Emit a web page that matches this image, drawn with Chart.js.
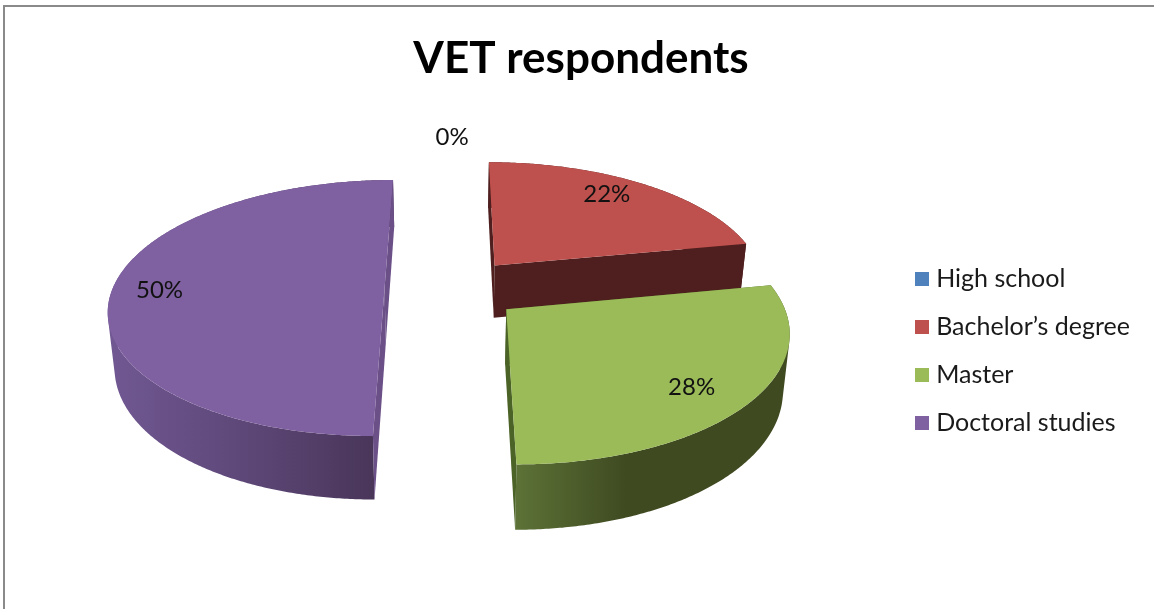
<!DOCTYPE html>
<html>
<head>
<meta charset="utf-8">
<title>VET respondents</title>
<script src="https://cdn.jsdelivr.net/npm/chart.js@4/dist/chart.umd.js"></script>
<style>
  html, body { margin: 0; padding: 0; background: #fff; overflow: hidden; }
  #wrap { position: relative; width: 1154px; height: 609px; }
  #frame { position: absolute; left: 3px; top: 5px; right: 0; bottom: 0;
           border-top: 2px solid #8a8a8a; border-left: 2px solid #8a8a8a; pointer-events: none; }
</style>
</head>
<body>
<div id="wrap">
  <canvas id="chart" width="1154" height="609"></canvas>
  <div id="frame"></div>
</div>
<script>
const CATEGORIES = ["High school", "Bachelor\u2019s degree", "Master", "Doctoral studies"];
const VALUES = [0, 22, 28, 50];
const TOP_COLORS = ["#4F81BD", "#BE504D", "#9BBB59", "#7F60A0"];
const CUT_COLORS = ["#2A4563", "#4E1F1E", "#4C6328", "#6B5088"];
// outer wall shading, left to right across the visible part of the rim
const WALL_SHADES = [
  [[0, "#4F81BD"], [1, "#2A4563"]],
  [[0, "#6E2B29"], [1, "#4E1F1E"]],
  [[0, "#5C7236"], [0.4, "#3F4A21"], [1, "#3F4A21"]],
  [[0, "#715893"], [0.55, "#5C4676"], [1, "#493659"]],
];

const EXPLODE = 0.25; // slice pull-out, as a fraction of the radius
// label placement per slice: distance from the tip, and a turn in degrees off the mid-angle
const LABEL_RADIUS = [1.23, 0.82, 0.805, 0.825];
const LABEL_TURN = [0, -3.6, 3, -1];
const LABEL_FONT = "24px Lato";

// Perspective camera for the tilted disc: u right, v down, z = 0 top face, 1 bottom face.
function project(u, v, z) {
  const w = 1 - 0.15 * v;
  let x = (272 * u - 67.5 * v + 452.5) / w;
  const y = (81.8 * v + 288.8 + 54 * z) / w;
  x = 451 + (x - 451) * (1 - 0.02 * z);
  return [x, y];
}

function sliceGeometry(arc) {
  const { startAngle, endAngle } = arc.getProps(["startAngle", "endAngle"], true);
  const mid = (startAngle + endAngle) / 2;
  return { startAngle, endAngle, mid, tipU: Math.cos(mid) * EXPLODE, tipV: Math.sin(mid) * EXPLODE };
}

function addPolygon(ctx, points) {
  points.forEach(([x, y], i) => (i ? ctx.lineTo(x, y) : ctx.moveTo(x, y)));
  ctx.closePath();
}

function tracePolygon(ctx, points) {
  ctx.beginPath();
  addPolygon(ctx, points);
}

function signedArea(points) {
  return points.reduce((sum, [x, y], i) => {
    const [nx, ny] = points[(i + 1) % points.length];
    return sum + x * ny - nx * y;
  }, 0);
}

// Arc element that paints itself as a solid wedge instead of a flat sector.
class Arc3D extends Chart.ArcElement {
  static id = "arc3d";

  draw(ctx) {
    const g = sliceGeometry(this);
    if (g.endAngle - g.startAngle <= 0) return;

    const steps = Math.ceil((g.endAngle - g.startAngle) / (Math.PI / 360));
    const rim = [];
    for (let i = 0; i <= steps; i++) {
      const a = g.startAngle + (g.endAngle - g.startAngle) * i / steps;
      rim.push({ a, u: g.tipU + Math.cos(a), v: g.tipV + Math.sin(a) });
    }
    const first = rim[0], last = rim[rim.length - 1];
    const idx = this.$context.dataIndex;

    // curved outer wall, the top face hides whatever faces away
    const top = rim.map((p) => project(p.u, p.v, 0));
    const bottom = rim.map((p) => project(p.u, p.v, 1));
    const facing = rim.filter((p) => Math.sin(p.a) >= 0).map((p) => project(p.u, p.v, 0)[0]);
    const x0 = facing.length ? Math.min(...facing) : 0;
    const x1 = facing.length ? Math.max(...facing) : 1;
    const shade = ctx.createLinearGradient(x0, 0, x1, 0);
    WALL_SHADES[idx].forEach(([stop, color]) => shade.addColorStop(stop, color));
    ctx.fillStyle = shade;
    // the rims cross near the sides, so one outline would pinch there; a union of
    // same-wound quads in a single path stays full without seams
    ctx.beginPath();
    for (let i = 0; i < steps; i++) {
      const quad = [top[i], top[i + 1], bottom[i + 1], bottom[i]];
      addPolygon(ctx, signedArea(quad) < 0 ? quad.reverse() : quad);
    }
    ctx.fill();

    // the two flat cut faces running in from the rim to the tip
    ctx.fillStyle = CUT_COLORS[idx];
    [first, last].forEach((p) => {
      tracePolygon(ctx, [
        project(g.tipU, g.tipV, 0), project(p.u, p.v, 0),
        project(p.u, p.v, 1), project(g.tipU, g.tipV, 1),
      ]);
      ctx.fill();
    });

    tracePolygon(ctx, [project(g.tipU, g.tipV, 0), ...top]);
    ctx.fillStyle = this.options.backgroundColor;
    ctx.fill();
  }
}

class Pie3DController extends Chart.PieController {
  static id = "pie3d";
  static defaults = { dataElementType: "arc3d" };

  draw() {
    const ctx = this.chart.ctx;
    const arcs = this.getMeta().data.slice();
    // back slices first so the nearer ones overlap them
    arcs.map((arc) => ({ arc, depth: Math.sin(sliceGeometry(arc).mid) }))
      .sort((a, b) => a.depth - b.depth)
      .forEach(({ arc }) => arc.draw(ctx));
    this.drawValueLabels(ctx, arcs);
  }

  drawValueLabels(ctx, arcs) {
    const total = VALUES.reduce((s, v) => s + v, 0);
    ctx.save();
    ctx.font = LABEL_FONT;
    ctx.fillStyle = "#111";
    ctx.textAlign = "center";
    ctx.textBaseline = "middle";
    arcs.forEach((arc, i) => {
      const g = sliceGeometry(arc);
      const r = LABEL_RADIUS[i];
      const a = g.mid + LABEL_TURN[i] * Math.PI / 180;
      const [x, y] = project(g.tipU + Math.cos(a) * r, g.tipV + Math.sin(a) * r, 0);
      ctx.fillText(`${Math.round(VALUES[i] / total * 100)}%`, x, y);
    });
    ctx.restore();
  }
}

Chart.register(Arc3D, Pie3DController);

function legendSwatch(color) {
  const c = document.createElement("canvas");
  c.width = c.height = 14;
  const g = c.getContext("2d");
  g.fillStyle = color;
  g.fillRect(0, 0, 14, 14);
  return c;
}

new Chart(document.getElementById("chart"), {
  type: "pie3d",
  data: {
    labels: CATEGORIES,
    datasets: [{ data: VALUES, backgroundColor: TOP_COLORS, borderWidth: 0 }],
  },
  options: {
    responsive: false,
    animation: false,
    events: [],
    layout: { padding: { left: 22, right: 14, bottom: 11 } },
    plugins: {
      tooltip: { enabled: false },
      title: {
        display: true,
        text: "VET respondents",
        color: "#000",
        font: { family: "Lato", size: 44, weight: "bold" },
        padding: { top: 32, bottom: 20 },
      },
      legend: {
        position: "right",
        fullSize: false,
        labels: {
          color: "#1a1a1a",
          font: { family: "Lato", size: 25 },
          usePointStyle: true,
          pointStyleWidth: 4,
          padding: 23,
          generateLabels(chart) {
            const items = Chart.overrides.pie.plugins.legend.labels.generateLabels(chart);
            return items.map((item) => ({ ...item, pointStyle: legendSwatch(item.fillStyle) }));
          },
        },
      },
    },
  },
});
</script>
</body>
</html>
